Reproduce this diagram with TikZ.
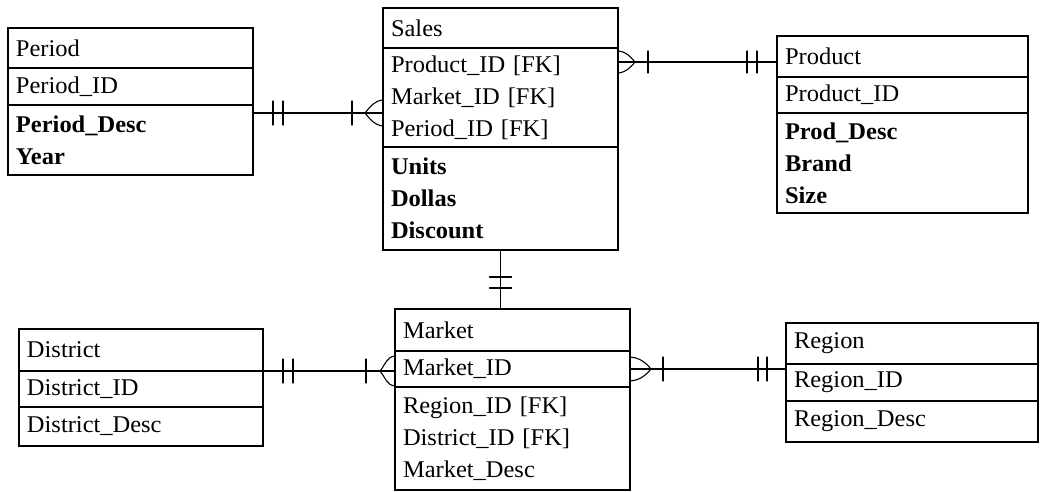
\documentclass[tikz,border=0pt]{standalone}
\usepackage{fontspec}
\setmainfont{Liberation Serif}[FakeStretch=1.02]
\usepackage{tikz}
\usetikzlibrary{positioning}
\tikzset{
  tabla/.style = {draw, line width=1.1pt, outer sep=0pt, inner xsep=8pt, inner ysep=0pt,
                  align=left, font=\fontsize{24}{32}\selectfont},
  enlace/.style = {line width=1.1pt, line cap=round}
}
\begin{document}
\begin{tikzpicture}[x=1pt, y=-1pt]
  \fill[white] (0,0) rectangle (1041,492);
  \useasboundingbox (0,0) rectangle (1041,492);

  \node[tabla, text width=229pt, minimum height=40pt, anchor=north west] (perhead) at (8,28) {Period};
  \node[tabla, text width=229pt, minimum height=37pt, below=0pt of perhead] (perkey) {Period\_ID};
  \node[tabla, text width=229pt, minimum height=70pt, below=0pt of perkey] (perattr) {\textbf{Period\_Desc}\\\textbf{Year}};

  \node[tabla, text width=219pt, minimum height=40pt, anchor=north west] (salhead) at (383,8) {Sales};
  \node[tabla, text width=219pt, minimum height=99pt, below=0pt of salhead] (salkey) {Product\_ID [FK]\\Market\_ID [FK]\\Period\_ID [FK]};
  \node[tabla, text width=219pt, minimum height=103pt, below=0pt of salkey] (salattr) {\textbf{Units}\\\textbf{Dollas}\\\textbf{Discount}};

  \node[tabla, text width=235pt, minimum height=41pt, anchor=north west] (prodhead) at (777,36) {Product};
  \node[tabla, text width=235pt, minimum height=36pt, below=0pt of prodhead] (prodkey) {Product\_ID};
  \node[tabla, text width=235pt, minimum height=100pt, below=0pt of prodkey] (prodattr) {\textbf{Prod\_Desc}\\\textbf{Brand}\\\textbf{Size}};

  \node[tabla, text width=228pt, minimum height=42pt, anchor=north west] (dsthead) at (19,329) {District};
  \node[tabla, text width=228pt, minimum height=36pt, below=0pt of dsthead] (dstkey) {District\_ID};
  \node[tabla, text width=228pt, minimum height=39pt, below=0pt of dstkey] (dstattr) {District\_Desc};

  \node[tabla, text width=219pt, minimum height=42pt, anchor=north west] (mkthead) at (395,309) {Market};
  \node[tabla, text width=219pt, minimum height=36pt, below=0pt of mkthead] (mktkey) {Market\_ID};
  \node[tabla, text width=219pt, minimum height=103pt, below=0pt of mktkey] (mktattr) {Region\_ID [FK]\\District\_ID [FK]\\Market\_Desc};

  \node[tabla, text width=236pt, minimum height=41pt, anchor=north west] (reghead) at (786,323) {Region};
  \node[tabla, text width=236pt, minimum height=37pt, below=0pt of reghead] (regkey) {Region\_ID};
  \node[tabla, text width=236pt, minimum height=41pt, below=0pt of regkey] (regattr) {Region\_Desc};

  \coordinate (pA) at ([yshift=-8pt]perattr.north east);
  \coordinate (pB) at (pA -| salkey.west);
  \draw[enlace] (pA) -- (pB);
  \draw[enlace] ([xshift=20pt]pA) ++(0,-12) -- ++(0,24);
  \draw[enlace] ([xshift=30pt]pA) ++(0,-12) -- ++(0,24);
  \draw[enlace] ([xshift=-31pt]pB) ++(0,-12) -- ++(0,24);
  \draw[enlace] ([yshift=13pt]pB) to[out=185,in=50] ([xshift=-18pt]pB) to[out=310,in=175] ([yshift=-13pt]pB);

  \coordinate (sA) at ([yshift=-14pt]salkey.north east);
  \coordinate (sB) at (sA -| prodhead.west);
  \draw[enlace] (sA) -- (sB);
  \draw[enlace] ([yshift=11pt]sA) to[out=-5,in=130] ([xshift=17pt]sA) to[out=230,in=5] ([yshift=-11pt]sA);
  \draw[enlace] ([xshift=30pt]sA) ++(0,-11) -- ++(0,22);
  \draw[enlace] ([xshift=-30pt]sB) ++(0,-11) -- ++(0,22);
  \draw[enlace] ([xshift=-20pt]sB) ++(0,-11) -- ++(0,22);

  \coordinate (sM) at (salattr.south);
  \coordinate (mM) at (sM |- mkthead.north);
  \draw[enlace] (sM) -- (mM);
  \draw[enlace] ([yshift=-27pt]sM) ++(-11,0) -- ++(22,0);
  \draw[enlace] ([yshift=-38pt]sM) ++(-11,0) -- ++(22,0);

  \coordinate (dA) at (dsthead.south east);
  \coordinate (dB) at (dA -| mktkey.west);
  \draw[enlace] (dA) -- (dB);
  \draw[enlace] ([xshift=20pt]dA) ++(0,-12) -- ++(0,24);
  \draw[enlace] ([xshift=30pt]dA) ++(0,-12) -- ++(0,24);
  \draw[enlace] ([xshift=-29pt]dB) ++(0,-12) -- ++(0,24);
  \draw[enlace] ([yshift=15pt]dB) to[out=185,in=50] ([xshift=-15pt]dB) to[out=310,in=175] ([yshift=-15pt]dB);

  \coordinate (mA) at (mktkey.east);
  \coordinate (mB) at (mA -| regkey.west);
  \draw[enlace] (mA) -- (mB);
  \draw[enlace] ([yshift=12pt]mA) to[out=-5,in=130] ([xshift=21pt]mA) to[out=230,in=5] ([yshift=-12pt]mA);
  \draw[enlace] ([xshift=33pt]mA) ++(0,-12) -- ++(0,24);
  \draw[enlace] ([xshift=-28pt]mB) ++(0,-12) -- ++(0,24);
  \draw[enlace] ([xshift=-19pt]mB) ++(0,-12) -- ++(0,24);
\end{tikzpicture}
\end{document}
